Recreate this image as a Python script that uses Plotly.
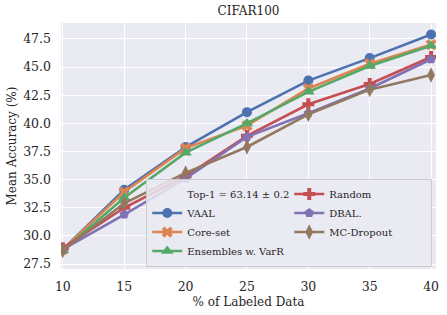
import plotly.graph_objects as go

x_labeled = [10, 15, 20, 25, 30, 35, 40]
vaal = [28.8, 34.1, 37.9, 41.0, 43.8, 45.8, 47.9]
coreset = [28.8, 33.9, 37.8, 39.8, 43.1, 45.3, 47.0]
ensembles = [28.7, 33.4, 37.4, 40.0, 42.8, 45.1, 46.9]
random_ = [28.9, 32.5, 35.3, 38.9, 41.7, 43.5, 45.9]
dbal = [28.8, 31.9, 35.1, 38.8, 40.9, 43.1, 45.7]
mcdrop = [28.7, 32.9, 35.6, 37.9, 40.8, 43.0, 44.3]
y_ticks = [27.5, 30.0, 32.5, 35.0, 37.5, 40.0, 42.5, 45.0, 47.5]
x_ticks = [10, 15, 20, 25, 30, 35, 40]

FONT = "DejaVu Serif"
fig = go.Figure()

def add(name, y, color, symbol, size, rank):
    fig.add_trace(go.Scatter(
        x=x_labeled, y=y, name=name, mode="lines+markers", legendrank=rank,
        line=dict(color=color, width=2.6),
        marker=dict(symbol=symbol, size=size, color=color, line=dict(width=0)),
    ))

fig.add_trace(go.Scatter(x=[None], y=[None], name="Top-1 = 63.14 ± 0.2", mode="lines",
                         legendrank=1, line=dict(color="rgba(0,0,0,0)", width=0)))
add("VAAL", vaal, "#4C72B0", "circle", 10, 3)
add("Core-set", coreset, "#DD8452", "x", 10, 5)
add("Ensembles w. VarR", ensembles, "#55A868", "triangle-up", 11, 7)
add("Random", random_, "#C44E52", "cross", 10, 2)
add("DBAL.", dbal, "#8172B3", "pentagon", 10, 4)
add("MC-Dropout", mcdrop, "#937860", "diamond-tall", 11, 6)

fig.update_layout(
    width=447, height=315,
    margin=dict(l=61, r=11, t=23, b=46),
    paper_bgcolor="white", plot_bgcolor="#EAEAF2",
    font=dict(family=FONT, size=12, color="#262626"),
    title=dict(text="CIFAR100", x=0.5, xref="paper", xanchor="center", y=0.978, yanchor="top",
               font=dict(family=FONT, size=12, color="#262626")),
    xaxis=dict(range=[9.85, 40.4], tickvals=x_ticks, showgrid=True, gridcolor="white", gridwidth=1.2,
               zeroline=False, showline=False, ticks="", tickfont=dict(size=12.5), automargin=False,
               ticklabelstandoff=8,
               title=dict(text="% of Labeled Data", font=dict(size=12), standoff=5)),
    yaxis=dict(range=[27.06, 48.92], tickvals=y_ticks, ticktext=[f"{v:.1f}" for v in y_ticks],
               showgrid=True, gridcolor="white", gridwidth=1.2, ticklabelstandoff=9,
               zeroline=False, showline=False, ticks="", tickfont=dict(size=12.5), automargin=False,
               title=dict(text="Mean Accuracy (%)", font=dict(size=12), standoff=3)),
    legend=dict(orientation="h", x=0.99, xanchor="right", y=0.01, yanchor="bottom",
                bgcolor="rgba(234,234,242,0.85)", bordercolor="#CCCCCC", borderwidth=1,
                font=dict(family=FONT, size=10, color="#262626"),
                entrywidth=97, entrywidthmode="pixels", itemwidth=30,
                tracegroupgap=0, traceorder="normal"),
    showlegend=True,
)

fig.write_html("out.html", config={"displayModeBar": False},
               post_script="document.body.style.margin='0';")
